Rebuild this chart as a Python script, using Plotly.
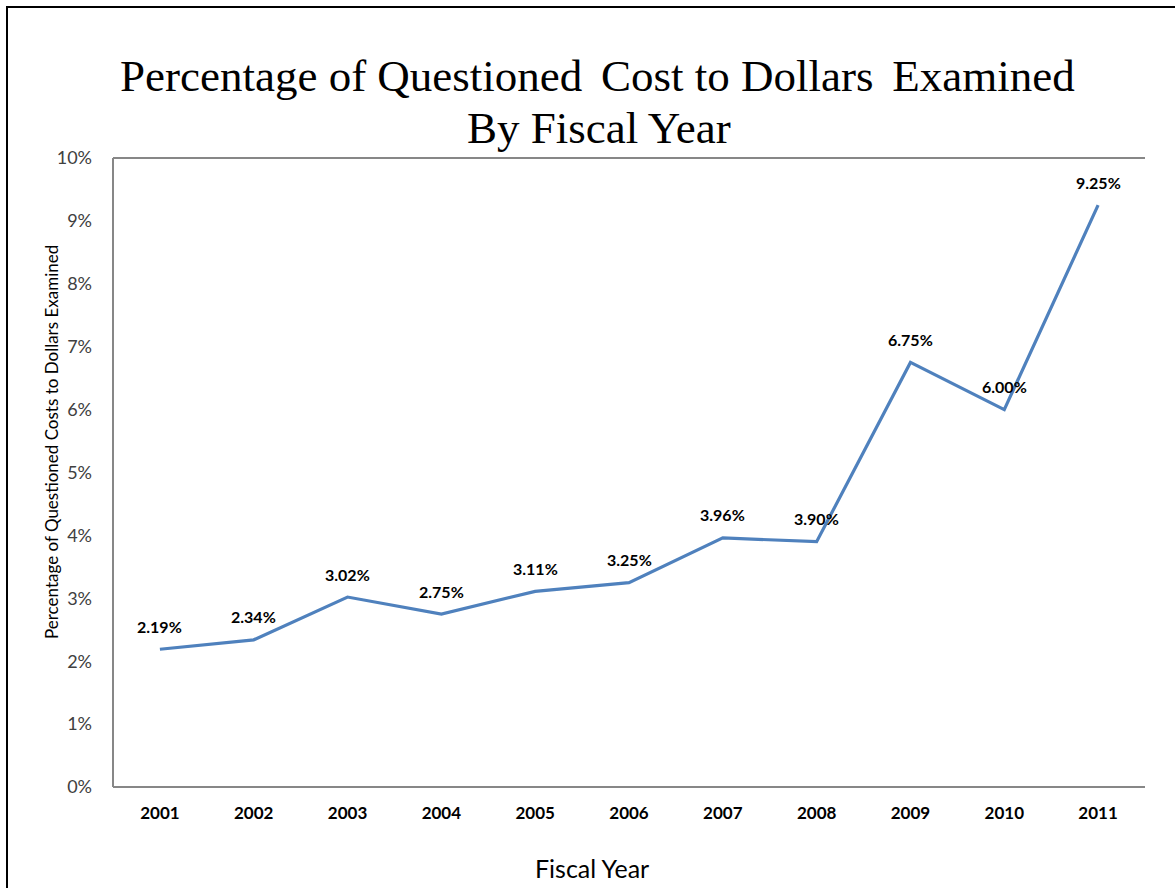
import plotly.graph_objects as go

years = ["2001", "2002", "2003", "2004", "2005", "2006", "2007", "2008", "2009", "2010", "2011"]
values = [2.19, 2.34, 3.02, 2.75, 3.11, 3.25, 3.96, 3.90, 6.75, 6.00, 9.25]
y_ticks = [0, 1, 2, 3, 4, 5, 6, 7, 8, 9, 10]
y_tick_labels = [f"{v}%" for v in y_ticks]
title_lines = ["Percentage of Questioned\u2006 Cost to Dollars\u2006 Examined", "By Fiscal Year"]

FONT = "Lato, Open Sans, sans-serif"
SERIF = "Liberation Serif, Times New Roman, serif"

fig = go.Figure()
fig.add_trace(go.Scatter(
    x=years, y=values, mode="lines",
    line=dict(color="#4F81BD", width=3.2),
    hoverinfo="skip", showlegend=False,
))

for i, v in enumerate(values):
    fig.add_annotation(
        x=i, y=v, xref="x", yref="y", text=f"<b>{v:.2f}%</b>", showarrow=False,
        yshift=23, font=dict(family=FONT, size=16, color="#000000"),
    )

L, T, R, B = 113, 158, 30, 101
W, H = 1175, 888
pw, ph = W - L - R, H - T - B

def px2x(px):
    return (px - L) / pw

def py2y(py):
    return (H - B - py) / ph

# title lines
for txt, cx, cy in zip(title_lines, [597, 599], [76, 128]):
    fig.add_annotation(
        x=px2x(cx), y=py2y(cy), xref="paper", yref="paper", text=txt, showarrow=False,
        font=dict(family=SERIF, size=45, color="#000000"), xanchor="center", yanchor="middle",
    )

# axis titles placed as annotations to match the reference positions
fig.add_annotation(
    x=px2x(52), y=py2y(442), xref="paper", yref="paper", textangle=-90,
    text="Percentage of Questioned Costs to Dollars Examined", showarrow=False,
    font=dict(family=FONT, size=17, color="#000000"), xanchor="center", yanchor="middle",
)
fig.add_annotation(
    x=px2x(592), y=py2y(868), xref="paper", yref="paper",
    text="Fiscal Year", showarrow=False,
    font=dict(family=FONT, size=25, color="#000000"), xanchor="center", yanchor="middle",
)

shapes = [
    # outer frame
    dict(type="rect", xref="paper", yref="paper", x0=px2x(7), x1=px2x(1185), y0=py2y(900), y1=py2y(7),
         line=dict(color="#000000", width=2), fillcolor="rgba(0,0,0,0)", layer="above"),
    # plot area top, left, bottom borders
    dict(type="line", xref="paper", yref="paper", x0=0, x1=1, y0=1, y1=1, line=dict(color="#878787", width=2)),
    dict(type="line", xref="paper", yref="paper", x0=0, x1=0, y0=0, y1=1, line=dict(color="#878787", width=2)),
    dict(type="line", xref="paper", yref="paper", x0=0, x1=1, y0=0, y1=0, line=dict(color="#878787", width=2)),
]

fig.update_layout(
    width=W, height=H,
    margin=dict(l=L, r=R, t=T, b=B),
    paper_bgcolor="white", plot_bgcolor="white",
    xaxis=dict(
        type="category", range=[-0.5, 10.5], showgrid=False, zeroline=False, showline=False,
        ticks="", tickfont=dict(family=FONT, size=17, color="#000000", weight="bold"),
        ticklabelstandoff=14,
    ),
    yaxis=dict(
        range=[0, 10], tickvals=y_ticks, ticktext=y_tick_labels, showgrid=False, zeroline=False,
        showline=False, ticks="", ticklabelstandoff=20,
        tickfont=dict(family=FONT, size=18, color="#404040"),
    ),
    shapes=shapes,
)

fig.write_html("out.html")
